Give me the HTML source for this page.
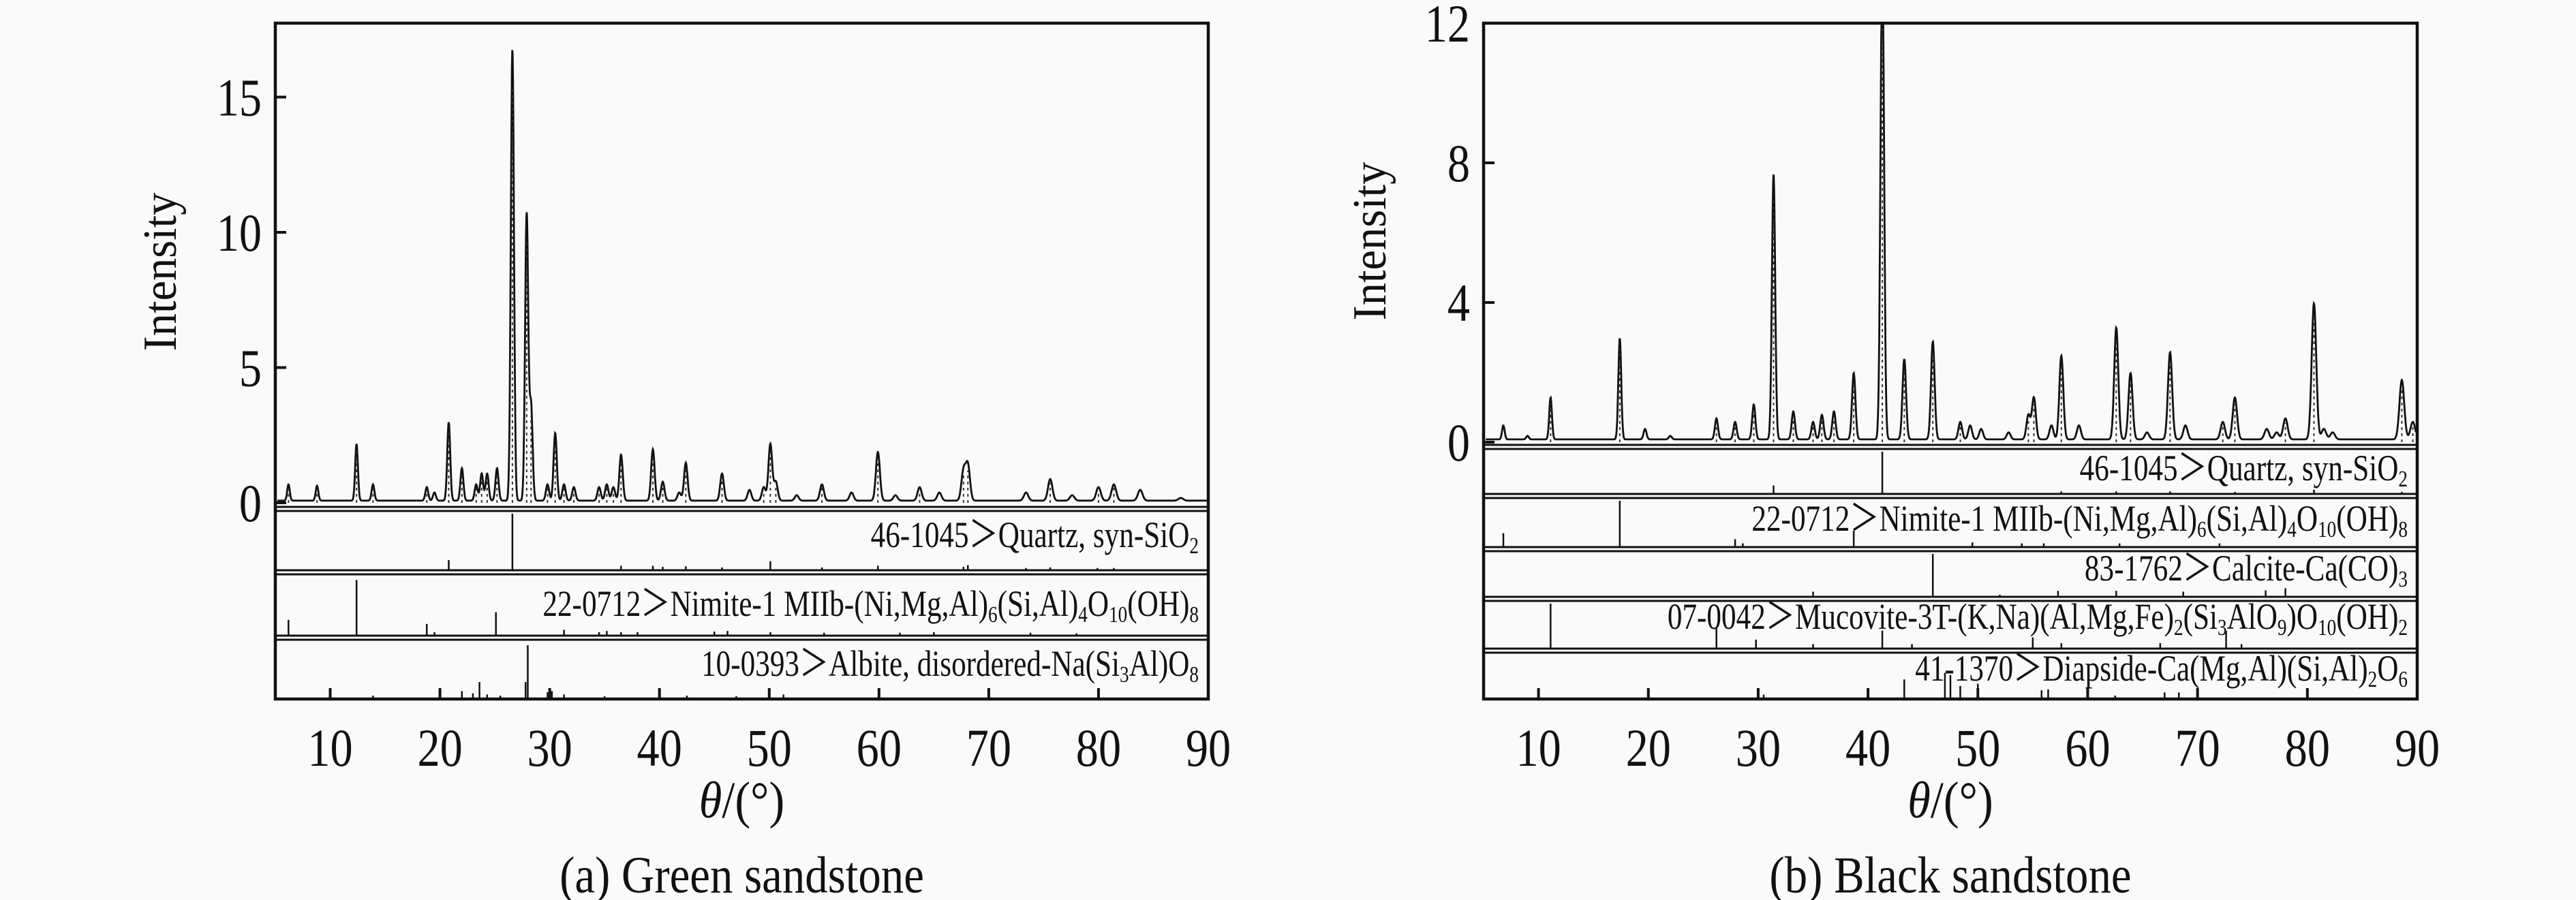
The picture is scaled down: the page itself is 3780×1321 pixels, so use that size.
<!DOCTYPE html>
<html><head><meta charset="utf-8"><style>
html,body{margin:0;padding:0;background:#fafafa;}
svg{display:block;font-family:"Liberation Serif",serif;}
</style></head><body>
<svg id="chart" width="3780" height="1321" viewBox="0 0 3780 1321" xmlns="http://www.w3.org/2000/svg">
<rect width="3780" height="1321" fill="#fafafa"/>
<g id="root"></g>
</svg>
<script>
// ---------- data ----------
const xTicks = [10,20,30,40,50,60,70,80,90];
const leftYTicks = [0,5,10,15];
const rightYTicks = [0,4,8,12];
const leftPeakPos = [6.2,8.8,12.4,13.9,18.8,19.5,20.8,22.0,23.3,23.8,24.3,25.2,26.6,27.9,28.3,29.8,30.5,31.3,32.2,34.5,35.2,35.8,36.5,39.4,40.3,41.8,42.4,45.7,48.2,49.5,50.1,50.6,52.5,54.8,57.5,59.9,61.5,63.7,65.5,67.7,68.1,73.4,75.6,77.6,80.0,81.4,83.8,87.5];
const leftPeakH = [0.6,0.55,2.1,0.6,0.5,0.3,2.9,1.2,0.6,1.0,1.0,1.2,16.7,10.6,3.5,0.6,2.5,0.6,0.5,0.5,0.6,0.5,1.7,1.9,0.7,0.3,1.4,1.0,0.4,0.5,2.1,0.7,0.2,0.6,0.3,1.8,0.2,0.5,0.3,1.1,1.3,0.3,0.8,0.2,0.5,0.6,0.4,0.1];
const rightPeakPos = [6.8,9.0,11.1,17.4,19.7,22.0,26.2,27.9,29.6,31.4,33.2,35.0,35.8,36.9,38.7,41.3,43.3,45.9,48.4,49.3,50.3,52.8,54.6,55.1,56.7,57.6,59.2,62.6,63.9,65.4,67.5,68.9,72.3,73.4,76.3,77.2,78.0,80.6,81.5,82.3,88.6,89.6];
const rightPeakH = [0.4,0.1,1.2,2.9,0.3,0.1,0.6,0.5,1.0,7.6,0.8,0.5,0.7,0.8,1.9,14,2.3,2.8,0.5,0.4,0.3,0.2,0.7,1.2,0.4,2.4,0.4,3.2,1.9,0.2,2.5,0.4,0.5,1.2,0.3,0.2,0.6,3.9,0.3,0.2,1.7,0.5];
// stick patterns: positions and relative heights (fraction of panel)
const lQuartzPos=[20.8,26.6,36.5,39.4,40.3,42.4,45.7,50.1,54.8,59.9,67.7,68.1,73.4,75.6,79.9,81.4];
const lQuartzH=[0.18,1.0,0.08,0.08,0.06,0.07,0.05,0.16,0.05,0.08,0.06,0.09,0.04,0.05,0.04,0.04];
const lNimPos=[6.2,12.4,18.8,19.5,25.1,31.3,34.5,35.2,36.5,38.0,45.0,46.2,50.1,55.0,61.9,65.0,73.8,78.0];
const lNimH=[0.27,0.95,0.2,0.06,0.4,0.1,0.06,0.08,0.06,0.06,0.07,0.08,0.06,0.05,0.05,0.06,0.05,0.04];
const lAlbPos=[10.0,13.9,20.0,22.0,23.0,23.6,24.3,25.5,27.8,28.0,29.8,30.2,31.3,35.0,40.0,42.5,47.0,50.0,51.3,60.0,70.0,80.0];
const lAlbH=[0.15,0.06,0.15,0.14,0.1,0.3,0.08,0.06,0.3,0.95,0.12,0.14,0.08,0.05,0.15,0.06,0.05,0.15,0.08,0.15,0.15,0.15];
const rQuartzPos=[31.4,41.3,57.6,62.6,67.5,73.4,80.6,88.6];
const rQuartzH=[0.2,1.0,0.06,0.06,0.06,0.05,0.1,0.05];
const rNimPos=[6.8,17.4,27.9,28.6,38.7,49.5,54.0,56.0,62.9,72.0];
const rNimH=[0.3,1.0,0.17,0.08,0.35,0.1,0.08,0.08,0.08,0.08];
const rCalPos=[35.0,45.9,52.0,57.3,62.6,68.7,76.2,78.0];
const rCalH=[0.12,1.0,0.05,0.14,0.14,0.12,0.15,0.2];
const rMucPos=[11.1,26.2,29.8,35.0,41.3,44.0,55.0,57.6,66.6,72.6,74.0];
const rMucH=[1.0,0.45,0.2,0.1,0.4,0.1,0.25,0.12,0.12,0.4,0.1];
const rDiaPos=[10.0,20.0,30.0,30.5,40.0,43.3,47.0,47.5,48.4,50.0,55.8,56.4,60.0,62.5,67.0,68.3,70.0,80.0,90.0];
const rDiaH=[0.2,0.2,0.25,0.1,0.2,0.45,0.6,0.55,0.3,0.35,0.2,0.22,0.2,0.08,0.15,0.15,0.2,0.2,0.2];

const NS='http://www.w3.org/2000/svg';
const root=document.getElementById('root');
function mk(tag,attrs,parent){const e=document.createElementNS(NS,tag);for(const k in attrs)e.setAttribute(k,attrs[k]);(parent||root).appendChild(e);return e;}

function spectrum(pos,h,x){let y=0.08;for(let i=0;i<pos.length;i++){const s=0.11+0.0012*pos[i];y+=h[i]*Math.exp(-0.5*Math.pow((x-pos[i])/s,2));}return y;}

function panel(cfg){
  const g=mk('g',{});
  
  
  const X=v=>cfg.x0+(v-5)/85*(cfg.x1-cfg.x0);
  const Y=v=>cfg.y0-v*cfg.yScale;
  const cp=mk('clipPath',{id:cfg.name+'-clip'},g);
  mk('rect',{x:cfg.x0,y:cfg.top,width:cfg.x1-cfg.x0,height:cfg.mainBottom-cfg.top},cp);
  let d='';
  for(let x=5.2;x<=89.9;x+=0.03){d+=(d?'L':'M')+X(x).toFixed(1)+','+Math.max(Y(spectrum(cfg.pos,cfg.h,x)),cfg.top).toFixed(1);}
  const p=mk('path',{d:d,fill:'none',stroke:'#111','stroke-width':2.8,'clip-path':'url(#'+cfg.name+'-clip)'},g);
  
  
  for(let i=0;i<cfg.pos.length;i++){
    if(cfg.h[i]<0.5)continue;
    const l=mk('line',{x1:X(cfg.pos[i]),x2:X(cfg.pos[i]),y1:cfg.y0,y2:Math.max(Y(cfg.h[i]*0.92),cfg.top),stroke:'#333','stroke-width':2,'stroke-dasharray':'4 5'},g);
    
    
  }
  cfg.subs.forEach(s=>{
    const sg=mk('g',{},g);
    
    
    mk('line',{x1:cfg.x0,x2:cfg.x1,y1:s.top,y2:s.top,stroke:'#111','stroke-width':3},sg);
    mk('line',{x1:cfg.x0,x2:cfg.x1,y1:s.top-6,y2:s.top-6,stroke:'#111','stroke-width':3},sg);
    for(let i=0;i<s.pos.length;i++){
      const st=mk('line',{x1:X(s.pos[i]),x2:X(s.pos[i]),y1:s.bot,y2:s.bot-s.h[i]*(s.bot-s.top-4),stroke:'#111','stroke-width':2.5},sg);
      
      
    }
    const t=mk('text',{transform:'translate('+(cfg.x1-14)+','+s.ty+') scale(0.8,1)','font-size':54,'text-anchor':'end',fill:'#111'},sg);
    
    
    s.label.forEach(part=>{const ts=mk('tspan',{},t);ts.textContent=part[0];if(part[1]){ts.setAttribute('font-size',34);ts.setAttribute('dy',9);}else if(part[2]){ts.setAttribute('dy',-9);}});
  });
  const fr=mk('rect',{x:cfg.x0,y:cfg.top,width:cfg.x1-cfg.x0,height:cfg.bottom-cfg.top,fill:'none',stroke:'#111','stroke-width':4.5},g);
  
  
  xTicks.forEach(v=>{
    mk('line',{x1:X(v),x2:X(v),y1:cfg.bottom,y2:cfg.bottom-16,stroke:'#111','stroke-width':4},g);
    const t=mk('text',{transform:'translate('+X(v)+','+(cfg.bottom+98)+') scale(0.85,1)','font-size':78,'text-anchor':'middle',fill:'#111'},g);
    t.textContent=v;
    
    
  });
  cfg.yTicks.forEach(v=>{
    mk('line',{x1:cfg.x0,x2:cfg.x0+16,y1:Y(v),y2:Y(v),stroke:'#111','stroke-width':4},g);
    const t=mk('text',{transform:'translate('+(cfg.x0-20)+','+(Y(v)+27)+') scale(0.85,1)','font-size':78,'text-anchor':'end',fill:'#111'},g);
    t.textContent=v;
    
    
  });
  const yt=mk('text',{transform:'translate('+cfg.yTitleX+','+((cfg.top+cfg.mainBottom)/2+10)+') rotate(-90) scale(0.95,1)','font-size':70,'text-anchor':'middle',fill:'#111'},g);
  yt.textContent='Intensity';
  
  
  const xt=mk('text',{transform:'translate('+((cfg.x0+cfg.x1)/2)+',1200) scale(0.9,1)','font-size':76,'text-anchor':'middle',fill:'#111'},g);
  const a=mk('tspan',{'font-style':'italic'},xt);a.textContent='θ';
  const b=mk('tspan',{},xt);b.textContent='/(°)';
  
  
  const cap=mk('text',{transform:'translate('+((cfg.x0+cfg.x1)/2)+',1310) scale(0.88,1)','font-size':76,'text-anchor':'middle',fill:'#111'},g);
  cap.textContent=cfg.caption;
  
  
}

panel({name:'green-sandstone-panel',x0:404,x1:1773,top:34,bottom:1026,mainBottom:744,y0:738,yScale:39.7,pos:leftPeakPos,h:leftPeakH,yTicks:leftYTicks,yTitleX:258,caption:'(a) Green sandstone',
  subs:[
   {top:750,bot:837,ty:803,pos:lQuartzPos,h:lQuartzH,label:[['46-1045＞Quartz, syn-SiO'],['2',1]]},
   {top:843,bot:933,ty:904,pos:lNimPos,h:lNimH,label:[['22-0712＞Nimite-1 MIIb-(Ni,Mg,Al)'],['6',1],['(Si,Al)',0,1],['4',1],['O',0,1],['10',1],['(OH)',0,1],['8',1]]},
   {top:939,bot:1026,ty:992,pos:lAlbPos,h:lAlbH,label:[['10-0393＞Albite, disordered-Na(Si'],['3',1],['Al)O',0,1],['8',1]]}
  ]});
panel({name:'black-sandstone-panel',x0:2177,x1:3547,top:34,bottom:1026,mainBottom:654,y0:649,yScale:51.25,pos:rightPeakPos,h:rightPeakH,yTicks:rightYTicks,yTitleX:2033,caption:'(b) Black sandstone',
  subs:[
   {top:659,bot:725,ty:705,pos:rQuartzPos,h:rQuartzH,label:[['46-1045＞Quartz, syn-SiO'],['2',1]]},
   {top:731,bot:803,ty:779,pos:rNimPos,h:rNimH,label:[['22-0712＞Nimite-1 MIIb-(Ni,Mg,Al)'],['6',1],['(Si,Al)',0,1],['4',1],['O',0,1],['10',1],['(OH)',0,1],['8',1]]},
   {top:809,bot:876,ty:852,pos:rCalPos,h:rCalH,label:[['83-1762＞Calcite-Ca(CO)'],['3',1]]},
   {top:882,bot:952,ty:923,pos:rMucPos,h:rMucH,label:[['07-0042＞Mucovite-3T-(K,Na)(Al,Mg,Fe)'],['2',1],['(Si',0,1],['3',1],['AlO',0,1],['9',1],[')O',0,1],['10',1],['(OH)',0,1],['2',1]]},
   {top:958,bot:1026,ty:999,pos:rDiaPos,h:rDiaH,label:[['41-1370＞Diapside-Ca(Mg,Al)(Si,Al)'],['2',1],['O',0,1],['6',1]]}
  ]});
</script>
</body></html>
